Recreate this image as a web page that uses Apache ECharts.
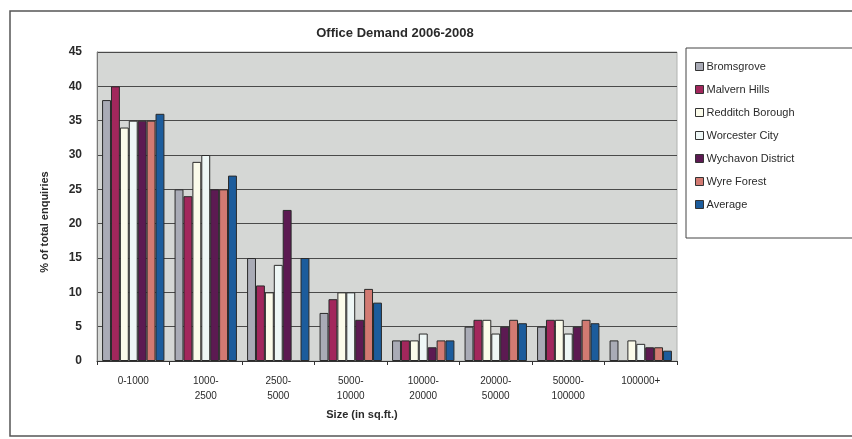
<!DOCTYPE html>
<html>
<head>
<meta charset="utf-8">
<script src="https://cdn.jsdelivr.net/npm/echarts@6/dist/echarts.min.js"></script>
<style>
  html, body { margin: 0; padding: 0; background: #ffffff; }
  #chart { width: 852px; height: 439px; }
</style>
</head>
<body>
<div id="chart"></div>
<script>
// Office floorspace enquiries by size band, per district (% of total)
const sizeBands = ['0-1000', '1000-\n2500', '2500-\n5000', '5000-\n10000', '10000-\n20000', '20000-\n50000', '50000-\n100000', '100000+'];
const yTicks = [0, 5, 10, 15, 20, 25, 30, 35, 40, 45];

const bromsgrove  = [38, 25, 15, 7, 3, 5, 5, 3];
const malvernHills = [40, 24, 11, 9, 3, 6, 6, 0];
const redditch    = [34, 29, 10, 10, 3, 6, 6, 3];
const worcester   = [35, 30, 14, 10, 4, 4, 4, 2.5];
const wychavon    = [35, 25, 22, 6, 2, 5, 5, 2];
const wyreForest  = [35, 25, 0, 10.5, 3, 6, 6, 2];
const average     = [36, 27, 15, 8.5, 3, 5.5, 5.5, 1.5];

const seriesDefs = [
  { name: 'Bromsgrove',       data: bromsgrove,   color: '#a9abb6' },
  { name: 'Malvern Hills',    data: malvernHills, color: '#a2275c' },
  { name: 'Redditch Borough', data: redditch,     color: '#fbfbea' },
  { name: 'Worcester City',   data: worcester,    color: '#eef7f6' },
  { name: 'Wychavon District',data: wychavon,     color: '#5c1a52' },
  { name: 'Wyre Forest',      data: wyreForest,   color: '#d27a72' },
  { name: 'Average',          data: average,      color: '#1c5c9c' }
];

const chart = echarts.init(document.getElementById('chart'), null, { renderer: 'canvas' });
const textFont = '"Liberation Sans", Arial, sans-serif';

chart.setOption({
  animation: false,
  backgroundColor: '#ffffff',
  textStyle: { fontFamily: textFont },
  title: {
    text: 'Office Demand 2006-2008',
    left: 390, top: 22, textAlign: 'center',
    textStyle: { fontSize: 13, fontWeight: 'bold', color: '#2a2a2a', fontFamily: textFont }
  },
  legend: {
    orient: 'vertical',
    left: 690, top: 55,
    itemWidth: 8, itemHeight: 8, itemGap: 10,
    icon: 'rect',
    textStyle: { fontSize: 11, color: '#2a2a2a', padding: [0, 0, 0, -2], lineHeight: 13 },
    itemStyle: { borderColor: '#333', borderWidth: 1 },
    data: seriesDefs.map(s => s.name)
  },
  grid: {
    left: 97, right: 175, top: 52, bottom: 78,
    show: true, backgroundColor: '#d5d7d5', borderColor: '#b0b2b0', borderWidth: 1
  },
  xAxis: {
    type: 'category',
    data: sizeBands,
    axisLine: { lineStyle: { color: '#333', width: 1 } },
    axisTick: { show: true, length: 4, lineStyle: { color: '#333' } },
    axisLabel: { fontSize: 10, color: '#2a2a2a', lineHeight: 15, margin: 13 }
  },
  yAxis: {
    type: 'value',
    min: 0, max: 45, interval: 5,
    axisLine: { show: true, lineStyle: { color: '#777' } },
    axisTick: { show: false },
    axisLabel: {
      fontSize: 12, color: '#2a2a2a', margin: 15, fontWeight: 'bold',
      formatter: v => (yTicks.indexOf(v) >= 0 ? String(v) : '')
    },
    splitLine: { show: true, lineStyle: { color: '#4a4a4a', width: 1 } }
  },
  series: seriesDefs.map(s => ({
    name: s.name,
    type: 'bar',
    data: s.data,
    barGap: '0%',
    barCategoryGap: '14%',
    itemStyle: { color: s.color, borderColor: '#2a2a2a', borderWidth: 1 }
  })),
  graphic: [
    // outer chart frame
    { type: 'rect', shape: { x: 10, y: 11, width: 860, height: 425 },
      style: { fill: 'none', stroke: '#555', lineWidth: 1.5 }, z: 0 },
    // legend frame
    { type: 'rect', shape: { x: 686, y: 48, width: 190, height: 190 },
      style: { fill: 'none', stroke: '#444', lineWidth: 1 }, z: 1 },
    // y axis title
    { type: 'text', x: 45, y: 222, rotation: Math.PI / 2,
      style: { text: '% of total enquiries', fill: '#2a2a2a', font: 'bold 11px ' + textFont,
               textAlign: 'center', textVerticalAlign: 'middle' } },
    // x axis title
    { type: 'text', x: 362, y: 415,
      style: { text: 'Size (in sq.ft.)', fill: '#2a2a2a', font: 'bold 11px ' + textFont,
               textAlign: 'center', textVerticalAlign: 'middle' } }
  ]
});
</script>
</body>
</html>
